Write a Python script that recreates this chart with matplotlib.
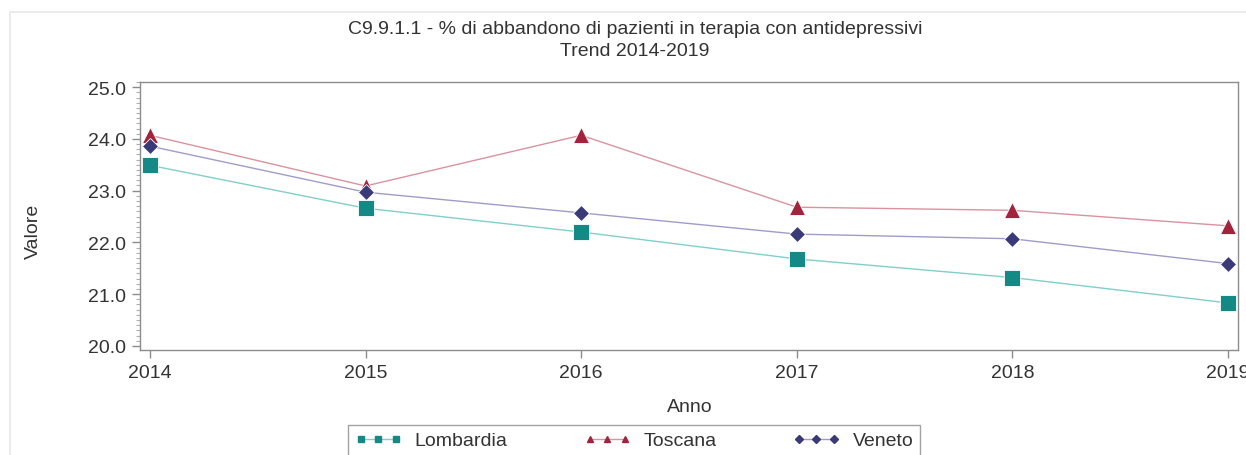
import matplotlib
matplotlib.use("Agg")
import matplotlib.pyplot as plt
from matplotlib.ticker import MultipleLocator
from matplotlib.patches import Rectangle

years = [2014, 2015, 2016, 2017, 2018, 2019]
lombardia = [23.49, 22.66, 22.20, 21.68, 21.32, 20.83]
toscana = [24.07, 23.09, 24.07, 22.68, 22.62, 22.32]
veneto = [23.86, 22.97, 22.57, 22.16, 22.07, 21.59]
yticks = [20.0, 21.0, 22.0, 23.0, 24.0, 25.0]

plt.rcParams['font.family'] = ['Liberation Sans Narrow', 'Liberation Sans', 'DejaVu Sans']

W, H = 1246, 456
fig = plt.figure(figsize=(W / 100, H / 100), dpi=100)

# outer light frame
fig.patches.append(Rectangle((10 / W, -0.1), 1.2, 1 - 13 / H + 0.1, transform=fig.transFigure,
                             fill=False, edgecolor='#ebebeb', linewidth=1.5))

ax = fig.add_axes([140 / W, 1 - 351 / H, (1238 - 140) / W, (351 - 83) / H])

series = [
    ("Lombardia", lombardia, '#138a85', '#80cfcb', 's', 11),
    ("Toscana", toscana, '#a3233d', '#d993a0', '^', 12),
    ("Veneto", veneto, '#3b3a78', '#a09cc9', 'D', 8.5),
]
for name, vals, mc, lc, mk, ms in series:
    ax.plot(years, vals, color=lc, linewidth=1.0, zorder=2)
    ax.plot(years, vals, linestyle='none', marker=mk, markersize=ms, color=mc,
            markeredgecolor='white', markeredgewidth=0.6, zorder=3)

ax.set_xlim(2013.954, 2019.046)
ax.set_ylim(19.92, 25.1)
ax.set_xticks(years)
ax.set_xticklabels([str(y) for y in years])
ax.set_yticks(yticks)
ax.set_yticklabels([f"{v:.1f}" for v in yticks])
ax.yaxis.set_minor_locator(MultipleLocator(0.1))

for s in ax.spines.values():
    s.set_color('#8c8c8c')
    s.set_linewidth(1.0)
ax.tick_params(axis='both', which='major', colors='#8c8c8c', length=6, width=1.0,
               labelsize=14, labelcolor='#333333', pad=4)
ax.tick_params(axis='y', which='minor', colors='#b0b0b0', length=3, width=0.8)

fig.text(635 / W, 1 - 30 / H, "C9.9.1.1 - % di abbandono di pazienti in terapia con antidepressivi",
         ha='center', va='center', fontsize=14, color='#333333')
fig.text(635 / W, 1 - 52 / H, "Trend 2014-2019", ha='center', va='center', fontsize=14, color='#333333')
fig.text(33 / W, 1 - 231 / H, "Valore", rotation=90, ha='center', va='center', fontsize=14, color='#333333')
fig.text(690 / W, 1 - 407 / H, "Anno", ha='center', va='center', fontsize=14, color='#333333')

handles = []
for name, vals, mc, lc, mk, ms in series:
    h, = ax.plot([], [], color=lc, linewidth=1.0, marker=mk, markersize=4.0,
                 markerfacecolor=mc, markeredgecolor=mc, label=name)
    handles.append(h)

leg = fig.legend(handles=handles, loc='upper left',
                 bbox_to_anchor=(348 / W, 1 - 460 / H, (920 - 348) / W, 34 / H),
                 mode='expand', ncol=3, frameon=True, fancybox=False, edgecolor='#8c8c8c',
                 fontsize=14, numpoints=3, handlelength=2.4, handletextpad=0.65,
                 columnspacing=2.5, borderpad=0.35, borderaxespad=0)
leg.get_frame().set_linewidth(1.0)
for t in leg.get_texts():
    t.set_color('#333333')

fig.savefig("out.png", dpi=100)
